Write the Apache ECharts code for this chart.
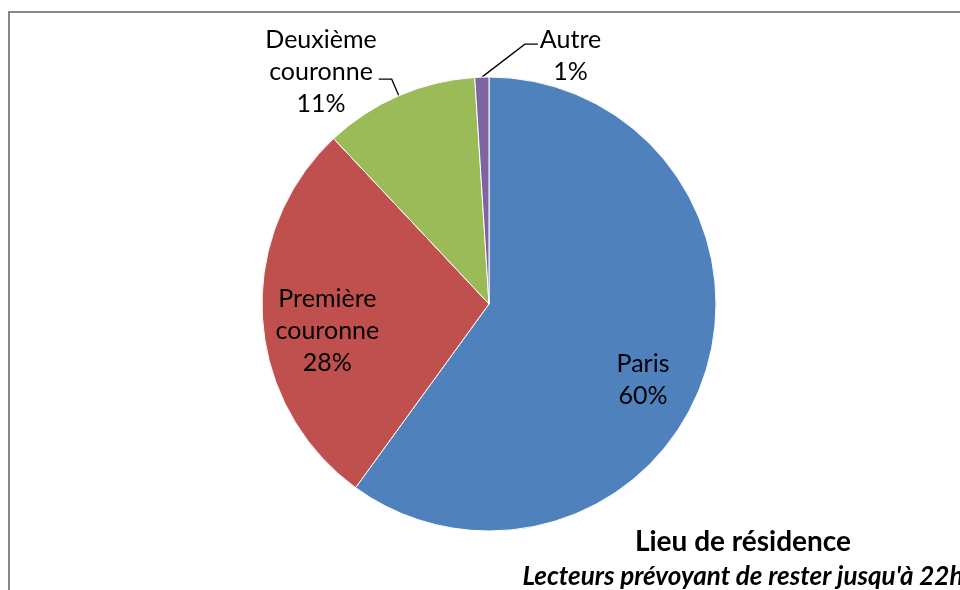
<!DOCTYPE html>
<html>
<head>
<meta charset="utf-8">
<script src="https://cdn.jsdelivr.net/npm/echarts@6/dist/echarts.min.js"></script>
<style>
html,body{margin:0;padding:0;background:#fff;}
#chart{width:960px;height:590px;}
</style>
</head>
<body>
<div id="chart"></div>
<script>
// ---- data ----
const categories = ['Paris', 'Première couronne', 'Deuxième couronne', 'Autre'];
const labelNames = ['Paris', 'Première\ncouronne', 'Deuxième\ncouronne', 'Autre'];
const values = [60, 28, 11, 1];
const colors = ['#4F81BD', '#C0504D', '#9BBB59', '#8064A2'];
const titleText = 'Lieu de résidence';
const subtitleText = "Lecteurs prévoyant de rester jusqu'à 22h";

// ---- layout ----
const CENTER = [489, 304];
const RADIUS = 227;
const FONT = 'Lato, "Open Sans", sans-serif';

const chart = echarts.init(document.getElementById('chart'), null, {renderer: 'canvas'});

const dataItems = categories.map((c, i) => {
  const item = {name: c, value: values[i], itemStyle: {color: colors[i]}};
  if (i >= 2) item.label = {position: 'outside'};
  return item;
});

chart.setOption({
  backgroundColor: '#fff',
  animation: false,
  title: {
    text: titleText,
    subtext: subtitleText,
    left: 738,
    top: 523,
    textAlign: 'center',
    itemGap: 8,
    textStyle: {fontFamily: FONT, fontWeight: 'bold', fontSize: 28, color: '#000'},
    subtextStyle: {fontFamily: FONT, fontWeight: 'bold', fontStyle: 'italic', fontSize: 26, color: '#000'}
  },
  graphic: [{
    type: 'rect',
    shape: {x: 9, y: 12, width: 1200, height: 1200},
    style: {fill: 'none', stroke: '#878787', lineWidth: 2},
    silent: true, z: -1
  }],
  series: [{
    type: 'pie',
    center: CENTER,
    radius: [0, RADIUS],
    startAngle: 90,
    clockwise: true,
    avoidLabelOverlap: false,
    itemStyle: {borderColor: '#fff', borderWidth: 1},
    label: {
      position: 'inside',
      fontFamily: FONT,
      fontSize: 25,
      lineHeight: 32,
      color: '#000',
      formatter: p => labelNames[p.dataIndex] + '\n' + Math.round(p.percent) + '%'
    },
    labelLine: {show: true, length: 18, length2: 13, lineStyle: {color: '#000', width: 1.3}},
    emphasis: {disabled: true},
    labelLayout: function (p) {
      const i = p.dataIndex;
      const r = p.labelRect;
      const cx = CENTER[0], cy = CENTER[1];
      if (i < 2) {
        const mx = r.x + r.width / 2, my = r.y + r.height / 2;
        return {x: cx + 1.39 * (mx - cx), y: cy + 1.71 * (my - cy) + 14, align: 'center', verticalAlign: 'middle'};
      }
      const p0 = p.labelLinePoints[0];
      if (i === 2) {
        const dx = p0[0] - cx, dy = p0[1] - cy, len = Math.sqrt(dx * dx + dy * dy);
        const p1 = [p0[0] + dx / len * 18, p0[1] + dy / len * 18];
        const p2 = [p1[0] - 13, p1[1]];
        return {x: p2[0] - 2 - r.width / 2, y: p2[1] - 7, align: 'center', verticalAlign: 'middle',
                labelLinePoints: [p0, p1, p2]};
      }
      const p1 = [p0[0] + 43, p0[1] - 33];
      const p2 = [p1[0] + 13, p1[1]];
      return {x: p2[0] + 2 + r.width / 2, y: p2[1] + 12, align: 'center', verticalAlign: 'middle',
              labelLinePoints: [p0, p1, p2]};
    },
    data: dataItems
  }]
});
</script>
</body>
</html>
